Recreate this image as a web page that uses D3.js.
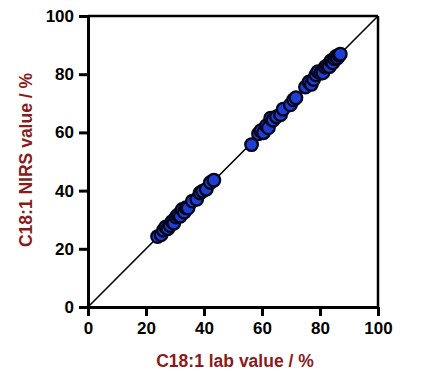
<!DOCTYPE html>
<html>
<head>
<meta charset="utf-8">
<script src="https://cdn.jsdelivr.net/npm/d3@7"></script>
<style>
  body { margin: 0; background: #fff; }
  text { font-family: "Liberation Sans", Arial, sans-serif; font-weight: bold; }
</style>
</head>
<body>
<div id="chart"></div>
<script>
// lab reference values vs NIRS predictions (%)
var labValues = [
  24.0, 25.2, 26.0, 26.8, 27.5, 28.3, 29.0, 29.6, 30.4, 31.0, 31.8, 32.5, 33.2, 33.8, 34.5, 36.0, 37.5, 38.6, 39.5, 40.8, 42.2, 43.4,
  56.4, 58.8, 59.6, 60.5, 61.5, 62.2, 63.0, 63.8, 65.0, 66.4, 67.3, 69.8, 70.9, 71.7,
  75.0, 76.2, 77.0, 77.8, 78.6, 79.3, 80.2, 81.0, 81.8, 82.5, 83.2, 83.8, 84.4, 85.0, 85.5, 86.0, 86.6, 87.0
];
var nirsValues = [
  24.2, 24.8, 26.4, 27.5, 26.9, 28.0, 29.4, 28.8, 30.9, 31.6, 31.2, 33.5, 32.6, 34.1, 34.0, 36.4, 37.0, 39.2, 39.8, 40.5, 42.8, 43.6,
  55.8, 59.5, 60.6, 59.9, 62.3, 61.6, 64.9, 64.2, 65.4, 66.1, 68.0, 69.5, 71.2, 71.9,
  75.6, 77.3, 76.5, 78.2, 79.8, 80.9, 80.3, 80.5, 82.5, 83.0, 82.6, 84.6, 83.9, 85.3, 86.1, 85.6, 86.5, 86.9
];
var tickValues = [0, 20, 40, 60, 80, 100];
var xTitle = "C18:1 lab value / %";
var yTitle = "C18:1 NIRS value / %";

var width = 422, height = 387;
var margin = {left: 88, top: 16, right: 44, bottom: 80};

var svg = d3.select("#chart").append("svg")
            .attr("width", width)
            .attr("height", height);

var x = d3.scaleLinear().domain([0, 100]).range([margin.left, width - margin.right]);
var y = d3.scaleLinear().domain([0, 100]).range([height - margin.bottom, margin.top]);

// frame: top + right
svg.append("line")
   .attr("x1", x(0)).attr("x2", x(100))
   .attr("y1", y(100)).attr("y2", y(100))
   .attr("stroke", "#000").attr("stroke-width", 2.5);
svg.append("line")
   .attr("x1", x(100)).attr("x2", x(100))
   .attr("y1", y(100)).attr("y2", y(0))
   .attr("stroke", "#000").attr("stroke-width", 2.5);

// 1:1 line
svg.append("line")
   .attr("x1", x(0)).attr("y1", y(0))
   .attr("x2", x(100)).attr("y2", y(100))
   .attr("stroke", "#000").attr("stroke-width", 1.6);

var xAxis = svg.append("g")
   .attr("transform", "translate(0," + y(0) + ")")
   .call(d3.axisBottom(x).tickValues(tickValues).tickSize(9).tickPadding(6).tickSizeOuter(0));
var yAxis = svg.append("g")
   .attr("transform", "translate(" + x(0) + ",0)")
   .call(d3.axisLeft(y).tickValues(tickValues).tickSize(9).tickPadding(5).tickSizeOuter(0));

[xAxis, yAxis].forEach(function(g) {
  g.select(".domain").attr("stroke", "#000").attr("stroke-width", 3);
  g.selectAll(".tick line").attr("stroke", "#000").attr("stroke-width", 3);
  g.selectAll(".tick text")
   .attr("fill", "#000")
   .style("font-size", "17px")
   .style("font-family", "'Liberation Sans', Arial, sans-serif")
   .style("font-weight", "bold");
});

// points
var pts = labValues.map(function(v, i) { return {lab: v, nirs: nirsValues[i]}; });
svg.append("g").selectAll("circle")
   .data(pts)
   .enter().append("circle")
   .attr("cx", function(d) { return x(d.lab); })
   .attr("cy", function(d) { return y(d.nirs); })
   .attr("r", 6.3)
   .attr("fill", "#1f3fd4")
   .attr("stroke", "#05051a")
   .attr("stroke-width", 2.3);

// axis titles
svg.append("text")
   .attr("x", 235).attr("y", 367)
   .attr("text-anchor", "middle")
   .attr("fill", "#8b1a1a")
   .style("font-size", "17.5px")
   .text(xTitle);
svg.append("text")
   .attr("transform", "translate(32,160) rotate(-90)")
   .attr("text-anchor", "middle")
   .attr("fill", "#8b1a1a")
   .style("font-size", "17.5px")
   .text(yTitle);
</script>
</body>
</html>
